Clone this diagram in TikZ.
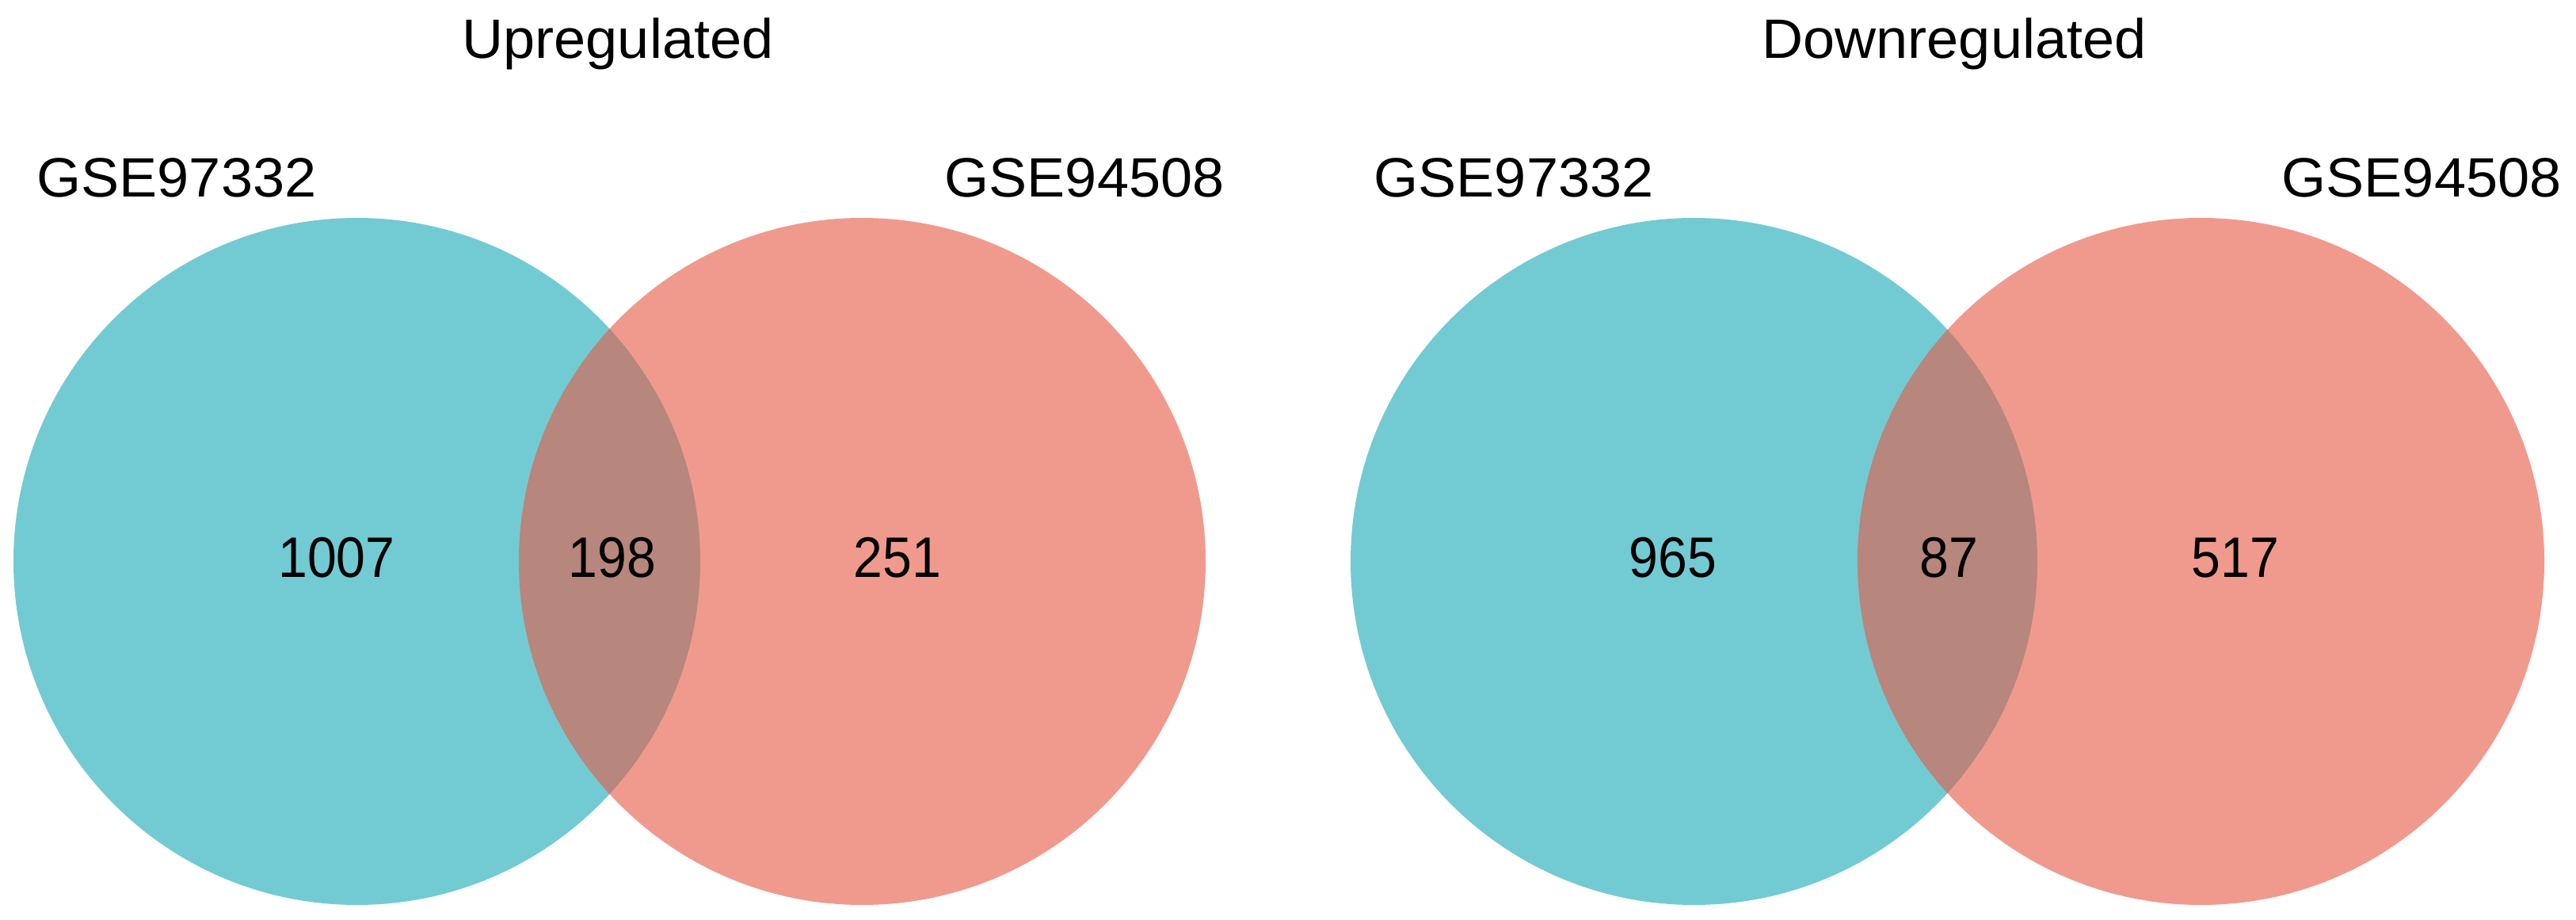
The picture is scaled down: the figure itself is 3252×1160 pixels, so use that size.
\documentclass[tikz,border=0pt]{standalone}
\usepackage{fontspec}
\setmainfont[FakeStretch=1.03]{Liberation Sans}
\newfontfamily\numfont[FakeStretch=0.92]{Liberation Sans}
\definecolor{cyanset}{RGB}{114,203,211}
\definecolor{redset}{RGB}{240,154,142}
\definecolor{overlapset}{RGB}{183,134,124}
\begin{document}
\begin{tikzpicture}[x=1pt,y=1pt,
  lab/.style={anchor=base,inner sep=0pt,font=\fontsize{70}{74}\selectfont},
  num/.style={anchor=base,inner sep=0pt,font=\numfont\fontsize{72}{76}\selectfont}]
\useasboundingbox (0,0) rectangle (3252,1160);
% Left Venn
\fill[cyanset] (450.5,451.5) circle[radius=433.5];
\fill[redset] (1088.5,451.5) circle[radius=433.5];
\begin{scope}
  \clip (450.5,451.5) circle[radius=433.5];
  \fill[overlapset] (1088.5,451.5) circle[radius=433.5];
\end{scope}
% Right Venn
\fill[cyanset] (2138.5,451.5) circle[radius=433.5];
\fill[redset] (2778.5,451.5) circle[radius=433.5];
\begin{scope}
  \clip (2138.5,451.5) circle[radius=433.5];
  \fill[overlapset] (2778.5,451.5) circle[radius=433.5];
\end{scope}
% Titles
\node[lab] (tup) at (780,1086) {Upregulated};
\node[lab] (tdown) at (2467,1086) {Downregulated};
% Set labels
\node[lab] (la) at (223,911) {GSE97332};
\node[lab] (lb) at (1369,911) {GSE94508};
\node[lab] (ra) at (1911,911) {GSE97332};
\node[lab] (rb) at (3057,911) {GSE94508};
% Counts
\node[num] (n1) at (425,431) {1007};
\node[num] (n2) at (773,431) {198};
\node[num] (n3) at (1133,431) {251};
\node[num] (n4) at (2112,431) {965};
\node[num] (n5) at (2460,431) {87};
\node[num] (n6) at (2822,431) {517};
\end{tikzpicture}
\end{document}
